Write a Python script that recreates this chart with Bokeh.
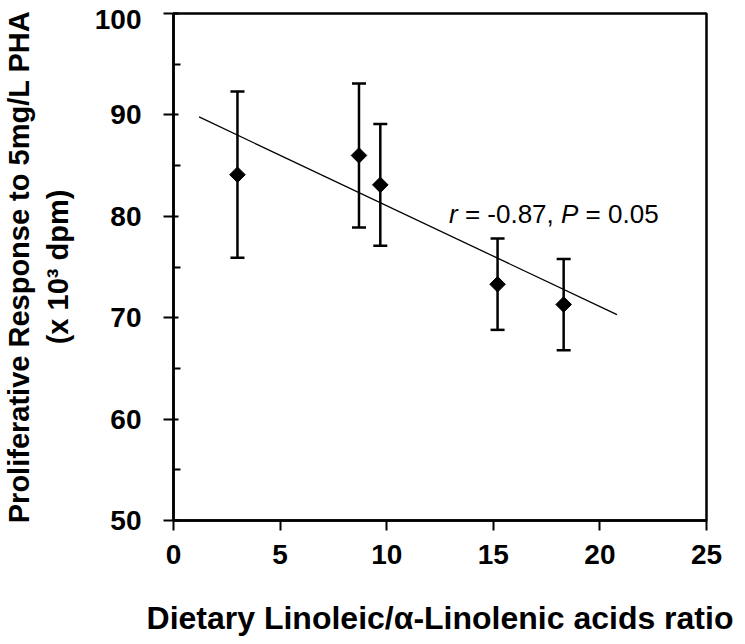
import math
from bokeh.plotting import figure
from bokeh.models import (ColumnDataSource, Whisker, TeeHead, FixedTicker, Label, Range1d)
from bokeh.embed import file_html
from bokeh.resources import INLINE

# ---- data ----
ratio = [3.0, 8.7, 9.7, 15.2, 18.3]
response = [84.1, 86.0, 83.1, 73.3, 71.3]
err = [8.2, 7.1, 6.0, 4.5, 4.5]
fit_x = [1.2, 20.8]
fit_y = [89.8, 70.3]
x_ticks = [0, 5, 10, 15, 20, 25]
y_ticks = [50, 60, 70, 80, 90, 100]
y_minor = [55, 65, 75, 85, 95]
annot_r = "r"
annot_r_val = "\u00a0=\u00a0-0.87,\u00a0"
annot_p = "P"
annot_p_val = "\u00a0=\u00a00.05"

FONT = "Liberation Sans"

upper = [r + e for r, e in zip(response, err)]
lower = [r - e for r, e in zip(response, err)]
src = ColumnDataSource(dict(x=ratio, y=response, upper=upper, lower=lower))

p = figure(width=745, height=644, output_backend="svg", toolbar_location=None,
           x_range=Range1d(0, 25), y_range=Range1d(50, 100),
           min_border_left=172, min_border_right=39, min_border_top=13, min_border_bottom=124)

p.xgrid.visible = False
p.ygrid.visible = False
p.outline_line_color = "black"
p.outline_line_width = 2.5
p.background_fill_color = "white"
p.border_fill_color = "white"

# axes
p.xaxis.ticker = FixedTicker(ticks=x_ticks)
p.yaxis.ticker = FixedTicker(ticks=y_ticks, minor_ticks=y_minor)
for ax in (p.xaxis[0], p.yaxis[0]):
    ax.axis_line_width = 2.5
    ax.axis_line_color = "black"
    ax.major_tick_line_width = 2
    ax.major_tick_line_color = "black"
    ax.minor_tick_line_width = 2
    ax.minor_tick_line_color = "black"
    ax.major_label_text_font = FONT
    ax.major_label_text_font_style = "bold"
    ax.major_label_text_font_size = "28px"
    ax.major_label_text_color = "black"
    ax.axis_label_text_font = FONT
    ax.axis_label_text_font_style = "bold"
    ax.axis_label_text_color = "black"

p.xaxis.major_tick_out = 10
p.xaxis.major_tick_in = 0
p.xaxis.minor_tick_out = 0
p.xaxis.minor_tick_in = 0
p.xaxis.major_label_standoff = 14
p.xaxis.axis_label = "Dietary Linoleic/\u03b1-Linolenic acids ratio"
p.xaxis.axis_label_text_font_size = "32px"
p.xaxis.axis_label_standoff = 33

p.yaxis.major_tick_out = 10
p.yaxis.major_tick_in = 5
p.yaxis.minor_tick_out = 0
p.yaxis.minor_tick_in = 7
p.yaxis.major_label_standoff = 22
p.yaxis.axis_label = "Proliferative Response to 5mg/L PHA\n(x 10\u00b3 dpm)"
p.yaxis.axis_label_text_font_size = "29px"
p.yaxis.axis_label_text_line_height = 1.2
p.yaxis.axis_label_standoff = 18

# the top tick label sits a little lower (as in the reference) so it is not cut off
top_tick = y_ticks[-1]
p.yaxis.major_label_overrides = {top_tick: "\n" + str(top_tick)}
p.yaxis.major_label_text_line_height = 0.1

# regression line
p.line(fit_x, fit_y, line_color="black", line_width=1.3)

# error bars
w = Whisker(source=src, base="x", upper="upper", lower="lower",
            line_color="black", line_width=2.5,
            upper_head=TeeHead(size=14, line_color="black", line_width=2.5),
            lower_head=TeeHead(size=14, line_color="black", line_width=2.5))
p.add_layout(w)

# diamond markers
p.scatter("x", "y", source=src, marker="square", size=11, angle=math.pi / 4,
          fill_color="black", line_color="black")

# annotation with italic r and P
ax0, ay0 = 12.92, 80.25
fs = 26
parts = [(annot_r, "italic", 0), (annot_r_val, "normal", 8.7),
         (annot_p, "italic", 8.7 + 103.4), (annot_p_val, "normal", 8.7 + 103.4 + 17.3)]
for txt, style, off in parts:
    p.add_layout(Label(x=ax0, y=ay0, x_offset=off, text=txt, text_font=FONT,
                       text_font_style=style, text_font_size=f"{fs}px",
                       text_color="black", text_baseline="alphabetic",
                       text_align="left"))

open("out.html", "w").write(file_html(p, INLINE))
